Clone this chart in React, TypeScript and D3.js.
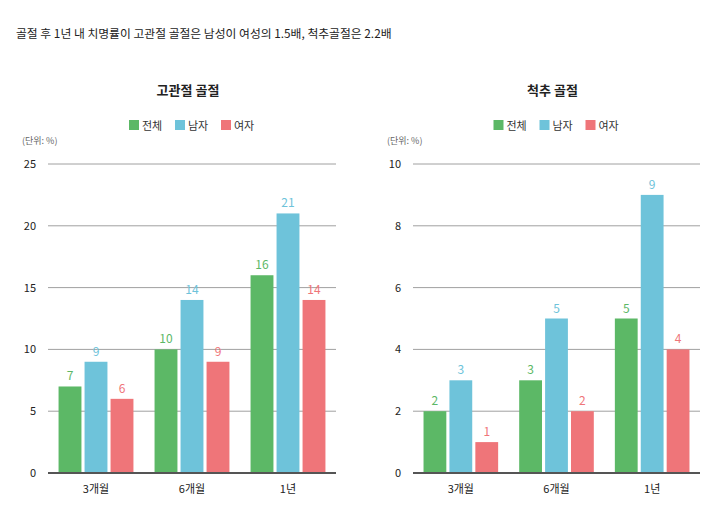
import React from "react";
import * as d3 from "d3";

const mainTitle = "골절 후 1년 내 치명률이 고관절 골절은 남성이 여성의 1.5배, 척추골절은 2.2배";
const categories = ["3개월", "6개월", "1년"];
const seriesNames = ["전체", "남자", "여자"];
const seriesColors = ["#5cb866", "#6ec3da", "#ef7579"];
const unitLabel = "(단위: %)";

const hipTitle = "고관절 골절";
const hipTotal = [7, 10, 16];
const hipMale = [9, 14, 21];
const hipFemale = [6, 9, 14];
const hipTicks = [0, 5, 10, 15, 20, 25];

const spineTitle = "척추 골절";
const spineTotal = [2, 3, 5];
const spineMale = [3, 5, 9];
const spineFemale = [1, 2, 4];
const spineTicks = [0, 2, 4, 6, 8, 10];

const FONT = "'Noto Sans CJK KR', 'Noto Sans', sans-serif";

function Panel({ x0, x1, title, series, ticks }: { x0: number; x1: number; title: string; series: number[][]; ticks: number[] }) {
  const yTop = 164;
  const yBottom = 473;
  const y = d3.scaleLinear().domain([0, ticks[ticks.length - 1]]).range([yBottom, yTop]);
  const xOuter = d3.scaleBand<string>().domain(categories).range([x0, x1]).paddingInner(0.22).paddingOuter(0.11);
  const xInner = d3.scaleBand<string>().domain(seriesNames).range([0, xOuter.bandwidth()]).paddingInner(0.12);
  const center = (x0 + x1) / 2;
  const legendStep = 46;
  const legendStart = center - 63;
  return (
    <g>
      <text x={center - 4} y={95} textAnchor="middle" fontSize={13} fontWeight="bold" fill="#222">{title}</text>
      {seriesNames.map((s, i) => (
        <g key={s} transform={`translate(${legendStart + i * legendStep},120)`}>
          <rect width={10} height={10} fill={seriesColors[i]} />
          <text x={13} y={9.5} fontSize={11} fill="#333">{s}</text>
        </g>
      ))}
      <text x={x0 - 26} y={144} fontSize={9} fill="#666">{unitLabel}</text>
      {ticks.map((t) => (
        <g key={t}>
          {t !== 0 && <line x1={x0} x2={x1} y1={y(t)} y2={y(t)} stroke="#a0a0a0" strokeWidth={1} />}
          <text x={x0 - 12} y={y(t) + 4} textAnchor="end" fontSize={11} fill="#222">{t}</text>
        </g>
      ))}
      {categories.map((c, ci) => (
        <g key={c} transform={`translate(${xOuter(c)},0)`}>
          {seriesNames.map((s, si) => {
            const v = series[si][ci];
            const bx = xInner(s)!;
            const bw = xInner.bandwidth();
            return (
              <g key={s}>
                <rect x={bx} y={y(v)} width={bw} height={yBottom - y(v)} fill={seriesColors[si]} />
                <text x={bx + bw / 2} y={y(v) - 6} textAnchor="middle" fontSize={12} fill={seriesColors[si]}>{v}</text>
              </g>
            );
          })}
          <text x={xOuter.bandwidth() / 2} y={493} textAnchor="middle" fontSize={11} fill="#222">{c}</text>
        </g>
      ))}
      <line x1={x0} x2={x1} y1={yBottom} y2={yBottom} stroke="#555" strokeWidth={2} />
    </g>
  );
}

export default function App() {
  return (
    <svg width={705} height={520} style={{ position: "absolute", left: 0, top: 0, background: "#fff" }} fontFamily={FONT}>
      <rect width={705} height={520} fill="#fff" />
      <text x={16} y={37.5} fontSize={11.8} fill="#222">{mainTitle}</text>
      <Panel x0={48} x1={336} title={hipTitle} series={[hipTotal, hipMale, hipFemale]} ticks={hipTicks} />
      <Panel x0={413} x1={700} title={spineTitle} series={[spineTotal, spineMale, spineFemale]} ticks={spineTicks} />
    </svg>
  );
}
